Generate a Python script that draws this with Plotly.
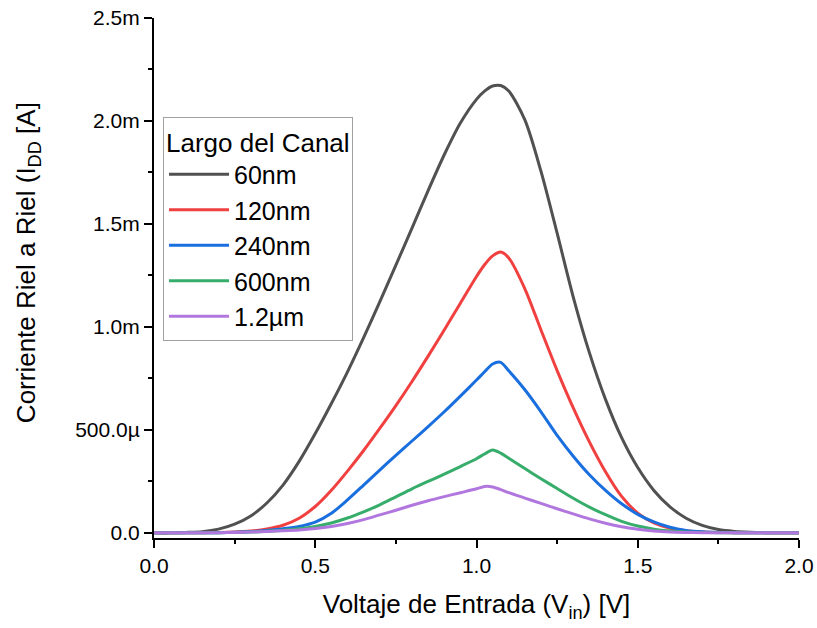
import plotly.graph_objects as go

# Input voltage grid (V)
vin = [0.00, 0.05, 0.10, 0.15, 0.20, 0.25, 0.30, 0.35, 0.40, 0.45,
       0.50, 0.55, 0.60, 0.65, 0.70, 0.75, 0.80, 0.85, 0.90, 0.95,
       1.00, 1.025, 1.05, 1.075, 1.10, 1.15, 1.20, 1.25, 1.30, 1.35, 1.40, 1.45,
       1.50, 1.55, 1.60, 1.65, 1.70, 1.75, 1.80, 1.85, 1.90, 1.95, 2.00]

# Rail-to-rail current values in mA
i_60nm = [0, 0, 0.002, 0.006, 0.018, 0.042, 0.082, 0.145, 0.232, 0.347,
          0.482, 0.628, 0.782, 0.948, 1.122, 1.30, 1.48, 1.662, 1.836, 1.99,
          2.105, 2.145, 2.17, 2.172, 2.145, 2.005, 1.755, 1.455, 1.145, 0.875, 0.648, 0.462,
          0.317, 0.206, 0.126, 0.071, 0.036, 0.016, 0.007, 0.003, 0.001, 0, 0]
i_120nm = [0, 0, 0, 0.001, 0.002, 0.004, 0.009, 0.019, 0.037, 0.071,
           0.128, 0.207, 0.30, 0.40, 0.507, 0.618, 0.735, 0.858, 0.985, 1.115,
           1.245, 1.302, 1.345, 1.364, 1.335, 1.185, 0.985, 0.788, 0.607, 0.442, 0.297, 0.177,
           0.096, 0.048, 0.022, 0.01, 0.004, 0.002, 0.001, 0, 0, 0, 0]
i_240nm = [0, 0, 0, 0, 0.001, 0.003, 0.006, 0.012, 0.02, 0.031,
           0.052, 0.095, 0.16, 0.232, 0.305, 0.376, 0.446, 0.516, 0.588, 0.664,
           0.742, 0.782, 0.82, 0.828, 0.787, 0.695, 0.588, 0.473, 0.372, 0.282, 0.206, 0.141,
           0.09, 0.053, 0.027, 0.012, 0.005, 0.002, 0.001, 0, 0, 0, 0]
i_600nm = [0, 0, 0, 0, 0.001, 0.002, 0.004, 0.008, 0.013, 0.02,
           0.031, 0.048, 0.072, 0.102, 0.136, 0.175, 0.214, 0.25, 0.285, 0.322,
           0.36, 0.383, 0.402, 0.387, 0.362, 0.312, 0.263, 0.215, 0.168, 0.125, 0.088, 0.056,
           0.033, 0.018, 0.009, 0.004, 0.002, 0.001, 0, 0, 0, 0, 0]
i_1200nm = [0, 0, 0, 0, 0.001, 0.002, 0.004, 0.007, 0.01, 0.014,
            0.021, 0.031, 0.045, 0.064, 0.087, 0.11, 0.134, 0.156, 0.176, 0.195,
            0.214, 0.225, 0.223, 0.21, 0.195, 0.169, 0.143, 0.117, 0.092, 0.068, 0.047, 0.03,
            0.018, 0.009, 0.004, 0.002, 0.001, 0, 0, 0, 0, 0, 0]

series_names = ["60nm", "120nm", "240nm", "600nm", "1.2µm"]
series_values = [i_60nm, i_120nm, i_240nm, i_600nm, i_1200nm]
series_colors = ["#515151", "#F14040", "#1A6FDF", "#37AD6B", "#B177DE"]

y_tickvals = [0, 0.5e-3, 1.0e-3, 1.5e-3, 2.0e-3, 2.5e-3]
y_ticktext = ["0.0", "500.0µ", "1.0m", "1.5m", "2.0m", "2.5m"]
y_minorvals = [0.25e-3, 0.75e-3, 1.25e-3, 1.75e-3, 2.25e-3]

FONT = "Arial, Liberation Sans, sans-serif"

fig = go.Figure()
for name, vals, col in zip(series_names, series_values, series_colors):
    fig.add_trace(go.Scatter(
        x=vin, y=[v * 1e-3 for v in vals], name=name, mode="lines",
        line=dict(color=col, width=3, shape="spline", smoothing=0.8),
    ))

axis_common = dict(
    showline=True, linecolor="black", linewidth=2,
    ticks="outside", ticklen=8, tickwidth=2, tickcolor="black",
    showgrid=False, zeroline=False, mirror=False, automargin=False,
    tickfont=dict(family=FONT, size=21, color="black"),
)

fig.update_xaxes(
    range=[0, 2.0], dtick=0.5, tick0=0, tickformat=".1f",
    minor=dict(dtick=0.25, tick0=0, ticks="outside", ticklen=4,
               tickwidth=2, tickcolor="black"),
    title=dict(text="Voltaje de Entrada (V<sub>in</sub>) [V]",
               font=dict(family=FONT, size=26, color="black"), standoff=19),
    **axis_common,
)
fig.update_yaxes(
    range=[-0.025e-3, 2.5e-3], tickvals=y_tickvals, ticktext=y_ticktext,
    minor=dict(tickvals=y_minorvals, ticks="outside", ticklen=4,
               tickwidth=2, tickcolor="black"),
    **axis_common,
)

fig.add_annotation(
    text="Corriente Riel a Riel (I<sub>DD</sub> [A]",
    xref="paper", yref="paper", x=-0.195, y=0.529,
    xanchor="center", yanchor="middle", textangle=-90, showarrow=False,
    font=dict(family=FONT, size=26, color="black"),
)

fig.update_layout(
    width=817, height=628,
    margin=dict(l=154, r=18, t=18, b=90),
    paper_bgcolor="white", plot_bgcolor="white",
    font=dict(family=FONT, color="black"),
    legend=dict(
        x=0.014, y=0.81, xanchor="left", yanchor="top",
        bordercolor="#a0a0a0", borderwidth=1, bgcolor="white",
        font=dict(family=FONT, size=25, color="black"),
        title=dict(text="Largo del Canal", font=dict(family=FONT, size=26)),
        itemwidth=60, tracegroupgap=0,
    ),
    showlegend=True,
)

fig.write_html("out.html")
